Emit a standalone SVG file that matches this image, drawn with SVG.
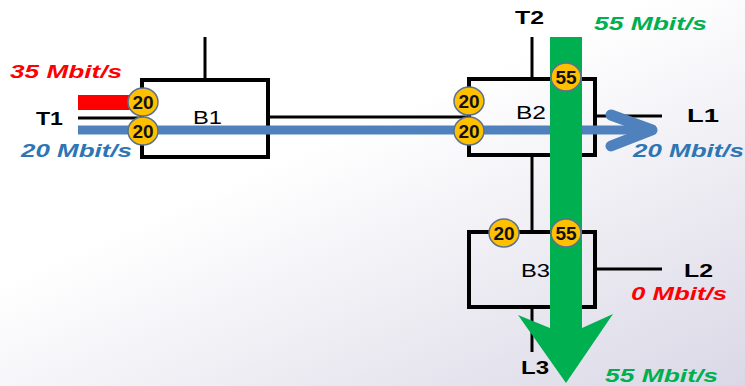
<svg xmlns="http://www.w3.org/2000/svg" width="745" height="386" viewBox="0 0 745 386">
<defs>
<linearGradient id="bg" x1="0.45" y1="0.35" x2="1" y2="1">
<stop offset="0" stop-color="#ffffff"/>
<stop offset="1" stop-color="#dad8e6"/>
</linearGradient>
<style>
.box{fill:none;stroke:#000;stroke-width:4}
.ln{stroke:#000;stroke-width:3;fill:none}
.lbl{font-family:"Liberation Sans",Arial,sans-serif;font-size:19px;fill:#000}
.term{font-family:"Liberation Sans",Arial,sans-serif;font-size:19px;font-weight:bold;fill:#000}
.rate{font-family:"Liberation Sans",Arial,sans-serif;font-size:19px;font-weight:bold;font-style:italic}
.red{fill:#ff0000}
.blue{fill:#2e75b6}
.green{fill:#00b050}
.dot{fill:#ffc000;stroke:#5b7190;stroke-width:1.5}
.dt{font-family:"Liberation Sans",Arial,sans-serif;font-size:19px;font-weight:bold;fill:#111;text-anchor:middle}
</style>
</defs>
<rect x="0" y="0" width="745" height="386" fill="url(#bg)"/>

<g id="connectors">
<line class="ln" x1="78" y1="118" x2="142" y2="118"/>
<line class="ln" x1="205" y1="37" x2="205" y2="80"/>
<line class="ln" x1="268" y1="117" x2="469" y2="117"/>
<line class="ln" x1="532" y1="37" x2="532" y2="79"/>
<line class="ln" x1="595" y1="116" x2="662" y2="116"/>
<line class="ln" x1="532" y1="155" x2="532" y2="232"/>
<line class="ln" x1="595" y1="269" x2="662" y2="269"/>
<line class="ln" x1="532" y1="307" x2="532" y2="352"/>
</g>

<g id="B1">
<rect class="box" x="142" y="80" width="126" height="77"/>
<text class="lbl" x="193" y="124" textLength="29" lengthAdjust="spacingAndGlyphs">B1</text>
</g>
<g id="B2">
<rect class="box" x="469" y="79" width="126" height="76"/>
<text class="lbl" x="516" y="119" textLength="30" lengthAdjust="spacingAndGlyphs">B2</text>
</g>
<g id="B3">
<rect class="box" x="469" y="232" width="126" height="75"/>
<text class="lbl" x="521" y="277" textLength="29" lengthAdjust="spacingAndGlyphs">B3</text>
</g>

<g id="flows">
<rect x="78" y="95" width="53" height="15" fill="#ff0000"/>
<path d="M78,130 H650" stroke="#4f81bd" stroke-width="9" fill="none"/>
<path d="M611,115 L652,130 L611,146" stroke="#4f81bd" stroke-width="11" fill="none" stroke-linecap="round" stroke-linejoin="round"/>
<path d="M550,37 H582 V328 L613,314 L566,383 L518,315 L550,328 Z" fill="#00b050"/>
</g>

<g id="markers">
<ellipse class="dot" cx="143" cy="102" rx="15" ry="14"/>
<text class="dt" x="143" y="109">20</text>
<ellipse class="dot" cx="143" cy="131" rx="15" ry="14"/>
<text class="dt" x="143" y="138">20</text>
<ellipse class="dot" cx="469" cy="101" rx="15" ry="14"/>
<text class="dt" x="469" y="108">20</text>
<ellipse class="dot" cx="469" cy="131" rx="15" ry="14"/>
<text class="dt" x="469" y="138">20</text>
<ellipse class="dot" cx="566" cy="77" rx="15" ry="14"/>
<text class="dt" x="566" y="84">55</text>
<ellipse class="dot" cx="504" cy="233" rx="15" ry="14"/>
<text class="dt" x="504" y="240">20</text>
<ellipse class="dot" cx="566" cy="233" rx="15" ry="14"/>
<text class="dt" x="566" y="240">55</text>
</g>

<g id="labels">
<text class="rate red" x="10" y="78" textLength="112" lengthAdjust="spacingAndGlyphs">35 Mbit/s</text>
<text class="term" x="36" y="125" textLength="27" lengthAdjust="spacingAndGlyphs">T1</text>
<text class="rate blue" x="21" y="157" textLength="111" lengthAdjust="spacingAndGlyphs">20 Mbit/s</text>
<text class="term" x="515" y="24" textLength="29" lengthAdjust="spacingAndGlyphs">T2</text>
<text class="rate green" x="594" y="30" textLength="113" lengthAdjust="spacingAndGlyphs">55 Mbit/s</text>
<text class="term" x="687" y="122" textLength="32" lengthAdjust="spacingAndGlyphs">L1</text>
<text class="rate blue" x="633" y="157" textLength="111" lengthAdjust="spacingAndGlyphs">20 Mbit/s</text>
<text class="term" x="684" y="277" textLength="29" lengthAdjust="spacingAndGlyphs">L2</text>
<text class="rate red" x="631" y="300" textLength="96" lengthAdjust="spacingAndGlyphs">0 Mbit/s</text>
<text class="term" x="521" y="374" textLength="28" lengthAdjust="spacingAndGlyphs">L3</text>
<text class="rate green" x="605" y="382" textLength="113" lengthAdjust="spacingAndGlyphs">55 Mbit/s</text>
</g>
</svg>
